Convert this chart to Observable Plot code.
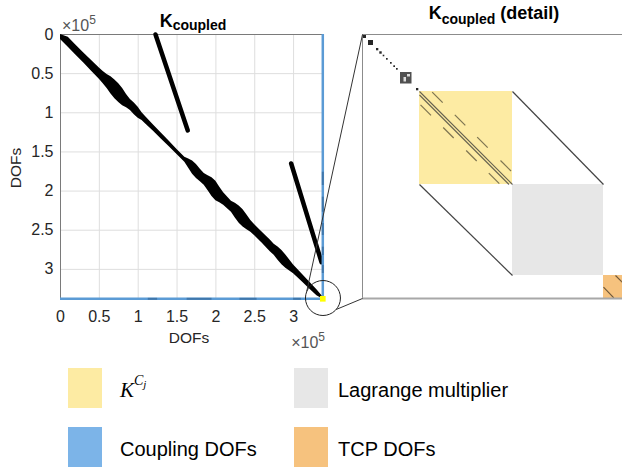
<!DOCTYPE html>
<html><head><meta charset="utf-8">
<script src="https://cdn.jsdelivr.net/npm/d3@7"></script>
<script src="https://cdn.jsdelivr.net/npm/@observablehq/plot@0.6"></script>
<style>
html,body{margin:0;padding:0;background:#fff;}
#wrap{position:relative;width:622px;height:468px;overflow:hidden;background:#fff;font-family:"Liberation Sans",Arial,sans-serif;color:#262626;}
.abs{position:absolute;white-space:nowrap;}
.sw{position:absolute;width:34px;height:40px;}
</style></head><body><div id="wrap"></div>
<script>
// ---------- main matrix (K_coupled) ----------
const N = 338500;                                   // matrix size (DOFs)
const tickValues = [0, 50000, 100000, 150000, 200000, 250000, 300000];
const tickLabels = ["0", "0.5", "1", "1.5", "2", "2.5", "3"];
// main diagonal band: position along the diagonal and half-thickness (DOFs)
const diagPos = [0, 10000, 20000, 30000, 40000, 50000, 55000, 60000, 65000, 70000, 75000, 80000, 85000, 90000, 95000, 100000,
  105000, 110000, 120000, 130000, 140000, 150000, 160000, 165000, 170000, 175000, 180000, 185000, 190000, 195000, 200000, 205000, 210000,
  220000, 225000, 230000, 235000, 240000, 245000, 250000, 260000, 270000, 275000, 280000, 285000, 290000, 295000, 300000,
  310000, 320000, 330000, 338500];
const diagHalf = [6400, 6400, 6400, 6400, 6800, 7200, 7800, 9000, 11000, 12000, 12000, 11000, 8500, 7000, 7500, 7000,
  5000, 4500, 4000, 3800, 3500, 3200, 3200, 6000, 8500, 9000, 8000, 7500, 9500, 12000, 12500, 10000, 8000,
  7000, 9500, 11000, 11000, 9500, 7500, 7000, 7000, 7500, 7000, 8500, 9000, 8500, 7000, 5500,
  5000, 4500, 3800, 2500];
// off-diagonal bands (column, row of start and end)
const offBandX1 = [122300, 296900];
const offBandY1 = [0, 164800];
const offBandX2 = [163800, 336000];
const offBandY2 = [122600, 291000];
// coupling DOFs (last rows / columns)
const couplingDOF = 337600;
const rowDarkStart = [113000, 163000, 231000, 300000];
const rowDarkEnd = [125000, 195000, 253000, 310000];
const colDarkStart = [175900, 207800, 241400, 271700, 295000];
const colDarkEnd = [192900, 227000, 256700, 282300, 305300];
const tcpCorner = 337600;
const zoomCircle = [337800, 336600];

// ---------- detail (last DOFs, local index) ----------
const detailSpan = 264;
const blockNames = ["K^Cj", "Lagrange multiplier", "TCP DOFs"];
const blockStart = [57, 150, 241];
const blockEnd = [150, 241, 264];
const blockColor = ["#fdeba3", "#e7e7e7", "#f6c27e"];
const smallStart = [0, 6, 14, 17.3, 20.7, 24, 28, 31.3, 34, 54];
const smallEnd = [4, 11, 16.3, 19.7, 22.3, 25.7, 29.7, 33, 35.7, 56.3];
const clusterStart = 38, clusterEnd = 49.5;
const kcjDiagOffsets = [0, 3.5];
const dashUpperStart = [69.7, 92.3, 114.7, 138];
const dashLowerStart = [58, 80.7, 103.7, 126.3];
const dashUpperOffset = -12, dashLowerOffset = 12.3, dashLength = 10.5;
const couplingLinks = [[150, 57, 241, 150], [57, 150, 150, 241]];
const tcpDashes = [[241, 252.7, 251.3, 263.3], [253, 241, 263.5, 251.5]];

// ---------- legend ----------
const legendLabels = ["K^Cj", "Lagrange multiplier", "Coupling DOFs", "TCP DOFs"];
const legendColors = ["#fdeba3", "#e7e7e7", "#7cb4e8", "#f6c27e"];

// =====================================================
const wrap = document.getElementById("wrap");
const baseStyle = {fontFamily: "'Liberation Sans', Arial, sans-serif", fontSize: "16px", color: "#262626", background: "transparent", overflow: "visible"};
const tickLabel = new Map(tickValues.map((v, i) => [v, tickLabels[i]]));
const diagData = diagPos.map((p, i) => ({pos: p, lo: Math.max(0, p - diagHalf[i]), hi: Math.min(N, p + diagHalf[i])}));
const offBands = offBandX1.map((x, i) => ({x1: x, y1: offBandY1[i], x2: offBandX2[i], y2: offBandY2[i]}));
const rowDark = rowDarkStart.map((s, i) => ({s, e: rowDarkEnd[i]}));
const colDark = colDarkStart.map((s, i) => ({s, e: colDarkEnd[i]}));

const left = Plot.plot({
  width: 340, height: 345,
  marginLeft: 60, marginRight: 17, marginTop: 34, marginBottom: 46,
  x: {domain: [0, N]},
  y: {domain: [N, 0]},
  style: baseStyle,
  marks: [
    Plot.gridX(tickValues, {stroke: "#dedede", strokeOpacity: 1}),
    Plot.gridY(tickValues, {stroke: "#dedede", strokeOpacity: 1}),
    Plot.frame({stroke: "#7a7a7a"}),
    Plot.axisX(tickValues, {tickSize: 0, tickPadding: 11, tickFormat: d => tickLabel.get(d), label: null}),
    Plot.axisY(tickValues, {tickSize: 0, tickPadding: 7, tickFormat: d => tickLabel.get(d), label: null}),
    Plot.areaY(diagData, {x: "pos", y1: "lo", y2: "hi", fill: "#000"}),
    Plot.link(offBands, {x1: "x1", y1: "y1", x2: "x2", y2: "y2", stroke: "#000", strokeWidth: 4.5, strokeLinecap: "round"}),
    Plot.ruleX([couplingDOF], {stroke: "#5b9bd5", strokeWidth: 2.5}),
    Plot.ruleY([couplingDOF], {stroke: "#5b9bd5", strokeWidth: 2.5}),
    Plot.ruleY(rowDark, {y: () => couplingDOF, x1: "s", x2: "e", stroke: "#2f5f8f", strokeWidth: 2, strokeOpacity: 0.6}),
    Plot.ruleX(colDark, {x: () => couplingDOF, y1: "s", y2: "e", stroke: "#2f5f8f", strokeWidth: 2, strokeOpacity: 0.6}),
    Plot.dot([tcpCorner], {x: d => d, y: d => d, symbol: "square", r: 3.2, fill: "#ffff00"}),
    Plot.dot([zoomCircle], {x: d => d[0], y: d => d[1], r: 17.5, stroke: "#222", fill: "none", strokeWidth: 1})
  ]
});

const blocks = blockStart.map((s, i) => ({name: blockNames[i], s, e: blockEnd[i], color: blockColor[i]}));
const smalls = smallStart.map((s, i) => ({s, e: smallEnd[i]}));
const kcjDiag = kcjDiagOffsets.map(o => ({x1: blockStart[0], y1: blockStart[0] + o, x2: blockEnd[0] - o, y2: blockEnd[0]}));
const dashes = [
  ...dashUpperStart.map(s => ({x1: s, y1: s + dashUpperOffset, x2: s + dashLength, y2: s + dashLength + dashUpperOffset})),
  ...dashLowerStart.map(s => ({x1: s, y1: s + dashLowerOffset, x2: s + dashLength, y2: s + dashLength + dashLowerOffset}))
];
const cLinks = couplingLinks.map(([x1, y1, x2, y2]) => ({x1, y1, x2, y2}));
const tLinks = tcpDashes.map(([x1, y1, x2, y2]) => ({x1, y1, x2, y2}));

const detail = Plot.plot({
  width: 300, height: 300,
  marginLeft: 22, marginRight: 14, marginTop: 34, marginBottom: 2,
  x: {domain: [0, detailSpan], axis: null},
  y: {domain: [detailSpan, 0], axis: null},
  color: {type: "identity"},
  style: baseStyle,
  marks: [
    Plot.rect(blocks, {x1: "s", x2: "e", y1: "s", y2: "e", fill: "color"}),
    Plot.link(kcjDiag, {x1: "x1", y1: "y1", x2: "x2", y2: "y2", stroke: "#333", strokeOpacity: 0.75, strokeWidth: 1.1}),
    Plot.link(dashes, {x1: "x1", y1: "y1", x2: "x2", y2: "y2", stroke: "#000", strokeOpacity: 0.5, strokeWidth: 1.2}),
    Plot.link(cLinks, {x1: "x1", y1: "y1", x2: "x2", y2: "y2", stroke: "#444", strokeWidth: 1.2}),
    Plot.link(tLinks, {x1: "x1", y1: "y1", x2: "x2", y2: "y2", stroke: "#000", strokeOpacity: 0.55, strokeWidth: 1.2}),
    Plot.rect(smalls, {x1: "s", x2: "e", y1: "s", y2: "e", fill: "#262626"}),
    Plot.rect([[clusterStart, clusterEnd]], {x1: d => d[0], x2: d => d[1], y1: d => d[0], y2: d => d[1], fill: "#3d3d3d", fillOpacity: 0.9}),
    Plot.rect([[41.5, 44, 43, 47.5], [45, 48, 40, 42.5]], {x1: d => d[0], x2: d => d[1], y1: d => d[2], y2: d => d[3], fill: "#fff", fillOpacity: 0.8}),
    Plot.frame({stroke: "#8c8c8c"}),
    Plot.ruleY([detailSpan], {stroke: "#a8a8a8", strokeWidth: 2})
  ]
});

function toScale(s) { return d3.scaleLinear(s.domain, s.range); }
const sx = toScale(left.scale("x")), sy = toScale(left.scale("y"));
const dxs = toScale(detail.scale("x")), dys = toScale(detail.scale("y"));
const detailLeft = 340;
const cx = sx(zoomCircle[0]), cy = sy(zoomCircle[1]), cr = 17.5;
const a1 = 202 * Math.PI / 180, a2 = 41 * Math.PI / 180;
const connectors = [
  {x1: cx + cr * Math.cos(a1), y1: cy + cr * Math.sin(a1), x2: detailLeft + dxs(0), y2: dys(0)},
  {x1: cx + cr * Math.cos(a2), y1: cy + cr * Math.sin(a2), x2: detailLeft + dxs(0), y2: dys(detailSpan)}
];
const overlay = Plot.plot({
  width: 622, height: 468, margin: 0,
  x: {domain: [0, 622], range: [0, 622], axis: null},
  y: {domain: [0, 468], range: [0, 468], axis: null},
  style: {background: "transparent", overflow: "visible"},
  marks: [Plot.link(connectors, {x1: "x1", y1: "y1", x2: "x2", y2: "y2", stroke: "#333", strokeWidth: 1})]
});

for (const [el, l] of [[left, 0], [detail, detailLeft], [overlay, 0]]) {
  el.style.position = "absolute"; el.style.left = l + "px"; el.style.top = "0px"; el.style.maxWidth = "none";
  wrap.appendChild(el);
}
overlay.style.pointerEvents = "none";

function addHTML(html) { wrap.insertAdjacentHTML("beforeend", html); }
// titles
addHTML(`<div class="abs" style="left:193px;top:12px;transform:translateX(-50%);font-weight:bold;font-size:18px;line-height:18px;color:#000">K<span style="position:relative;top:3px;font-size:14px">coupled</span></div>`);
addHTML(`<div class="abs" style="left:494px;top:4px;transform:translateX(-50%);font-weight:bold;font-size:18px;line-height:18px;color:#000">K<span style="position:relative;top:5px;font-size:14px">coupled</span> (detail)</div>`);
// exponent labels
addHTML(`<div class="abs" style="left:62px;top:18px;font-size:16px;line-height:16px;color:#555">×10<span style="position:relative;top:-7px;font-size:12px">5</span></div>`);
addHTML(`<div class="abs" style="left:325px;top:335px;transform:translateX(-100%);font-size:16px;line-height:16px;color:#555">×10<span style="position:relative;top:-7px;font-size:12px">5</span></div>`);
// axis labels
addHTML(`<div class="abs" style="left:189px;top:330px;transform:translateX(-50%);font-size:15.5px;line-height:15px">DOFs</div>`);
addHTML(`<div class="abs" style="left:15px;top:168px;transform:translate(-50%,-50%) rotate(-90deg);font-size:15.5px;line-height:15px">DOFs</div>`);
// legend
const legPos = [[68, 368], [294, 368], [68, 427], [294, 427]];
legendLabels.forEach((lab, i) => {
  const [x, y] = legPos[i];
  addHTML(`<div class="sw" style="left:${x}px;top:${y}px;background:${legendColors[i]}"></div>`);
  const tx = i % 2 === 0 ? 120 : 338;
  if (lab === "K^Cj") {
    addHTML(`<div class="abs" style="left:${tx}px;top:${y + 11.5}px;font-family:'Liberation Serif',serif;font-style:italic;font-size:21px;line-height:21px;color:#000">K<span style="position:relative;top:-12px;font-size:14px">C</span><span style="position:relative;top:-9px;font-size:11px">j</span></div>`);
  } else {
    addHTML(`<div class="abs" style="left:${tx}px;top:${y + 12}px;font-size:20px;line-height:20px;color:#000">${lab}</div>`);
  }
});
</script></body></html>
